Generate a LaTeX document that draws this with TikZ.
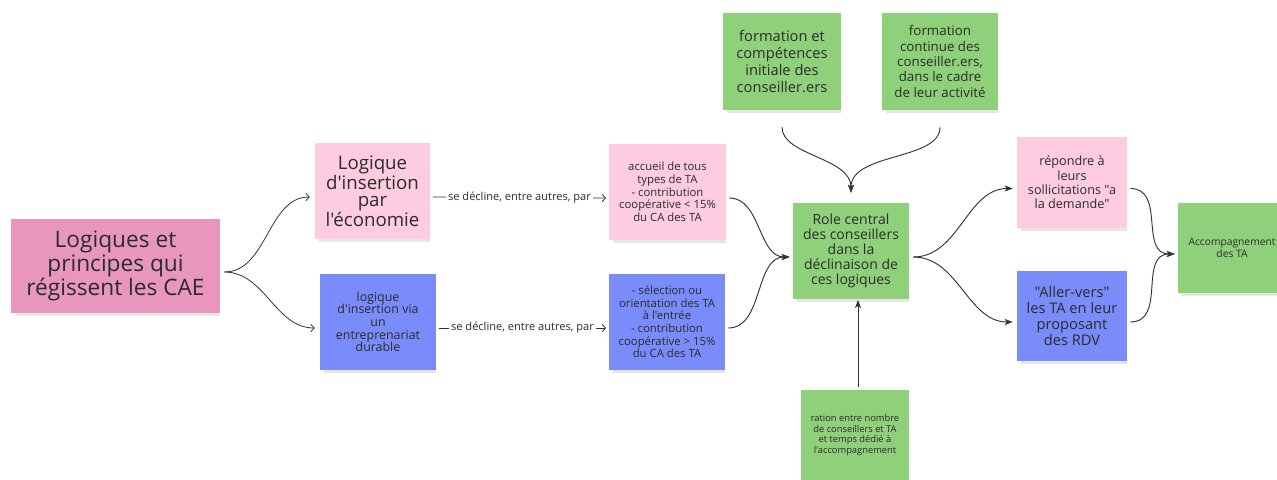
\documentclass[tikz,border=0pt]{standalone}
\usepackage{fontspec}
\setmainfont{Open Sans}[Ligatures=TeXOff]
\usetikzlibrary{arrows.meta, shadows, positioning}

\definecolor{notepink}{HTML}{FDCCE0}
\definecolor{caepink}{HTML}{E896BE}
\definecolor{noteblue}{HTML}{7A8CFA}
\definecolor{notegreen}{HTML}{8FD17A}
\definecolor{inktext}{HTML}{2B2B2B}

\begin{document}
\begin{tikzpicture}[x=0.75pt, y=-0.75pt,
  note/.style={rectangle, align=center, inner sep=1pt, text=inktext,
    drop shadow={shadow xshift=1.5pt, shadow yshift=-3.5pt, shadow scale=0.97, opacity=0.2}},
  link/.style={draw=black!80, line width=0.7pt, -{Stealth[length=6pt, width=4.5pt, inset=1.5pt]}},
  barb/.style={draw=black!80, line width=0.6pt, -{Straight Barb[length=2.5pt, width=5.5pt]}},
  declin/.style={fill=white, inner sep=1.5pt, text=inktext, font=\fontsize{8.3}{9}\selectfont}
]
\useasboundingbox (0,0) rectangle (1277,479);

% notes
\node[note, fill=caepink, minimum width=156.75pt, minimum height=70.5pt,
  font=\fontsize{17}{16.5}\selectfont] (cae) at (115.5,266) {Logiques et\\principes qui\\régissent les CAE};
\node[note, fill=notepink, minimum width=86.25pt, minimum height=72pt,
  font=\fontsize{14}{12.75}\selectfont] (ecol) at (372.5,191) {Logique\\d'insertion\\par\\l'économie};
\node[note, fill=noteblue, minimum width=87pt, minimum height=72pt,
  font=\fontsize{9.3}{9.5}\selectfont] (durable) at (378,322) {logique\\d'insertion via\\un\\entreprenariat\\durable};
\node[note, fill=notepink, minimum width=87.75pt, minimum height=72pt,
  font=\fontsize{8.5}{9.5}\selectfont] (accueil) at (667.5,192) {accueil de tous\\types de TA\\- contribution\\coopérative < 15\%\\du CA des TA};
\node[note, fill=noteblue, minimum width=87pt, minimum height=72pt,
  font=\fontsize{8.5}{9.5}\selectfont] (selection) at (667,322) {- sélection ou\\orientation des TA\\à l'entrée\\- contribution\\coopérative > 15\%\\du CA des TA};
\node[note, fill=notegreen, minimum width=88.5pt, minimum height=72.75pt,
  font=\fontsize{11}{12.75}\selectfont] (forminit) at (782,61.5) {formation et\\compétences\\initiale des\\conseiller.ers};
\node[note, fill=notegreen, minimum width=87pt, minimum height=72.75pt,
  font=\fontsize{10}{11.5}\selectfont] (formcont) at (940,61.5) {formation\\continue des\\conseiller.ers,\\dans le cadre\\de leur activité};
\node[note, fill=notegreen, minimum width=87pt, minimum height=72pt,
  font=\fontsize{10.5}{11.25}\selectfont] (role) at (851,251) {Role central\\des conseillers\\dans la\\déclinaison de\\ces logiques};
\node[note, fill=notegreen, minimum width=81pt, minimum height=67.5pt,
  font=\fontsize{7}{8}\selectfont] (ratio) at (855,435) {ration entre nombre\\de conseillers et TA\\et temps dédié à\\l'accompagnement};
\node[note, fill=notepink, minimum width=82.5pt, minimum height=68.25pt,
  font=\fontsize{9.5}{10.75}\selectfont] (demande) at (1072,182.5) {répondre à\\leurs\\sollicitations "a\\la demande"};
\node[note, fill=noteblue, minimum width=82.5pt, minimum height=67.5pt,
  font=\fontsize{11}{12}\selectfont] (allervers) at (1072,316) {"Aller-vers"\\les TA en leur\\proposant\\des RDV};
\node[note, fill=notegreen, minimum width=81pt, minimum height=67.5pt,
  font=\fontsize{7.7}{9}\selectfont] (accomp) at (1232,248) {Accompagnement\\des TA};

% connectors
\draw[barb, shorten <=3pt, shorten >=3.75pt] ([yshift=-4.5pt]cae.east) to[out=0, in=180] ([yshift=-4.5pt]ecol.west);
\draw[barb, shorten <=3pt, shorten >=3.75pt] ([yshift=-4.5pt]cae.east) to[out=0, in=180] ([yshift=-4.5pt]durable.west);
\draw[barb, shorten <=2pt, shorten >=2pt] ([yshift=-4.5pt]ecol.east) -- node[declin] {se décline, entre autres, par} ([yshift=-4.5pt]accueil.west);
\draw[barb, shorten <=2pt, shorten >=2pt] ([yshift=-4.5pt]durable.east) -- node[declin] {se décline, entre autres, par} ([yshift=-4.5pt]selection.west);
\draw[link, shorten <=2.25pt, shorten >=2.25pt] ([yshift=-4.5pt]accueil.east) to[out=0, in=180] ([yshift=-4.5pt]role.west);
\draw[link, shorten <=2.25pt, shorten >=2.25pt] ([yshift=-4.5pt]selection.east) to[out=0, in=180] ([yshift=-4.5pt]role.west);
\draw[link, shorten <=12.75pt, shorten >=7.5pt] (forminit.south) to[out=-90, in=90] (role.north);
\draw[link, shorten <=12.75pt, shorten >=7.5pt] (formcont.south) to[out=-90, in=90] (role.north);
\draw[link, shorten <=2pt, shorten >=0.5pt] ([xshift=2.25pt]ratio.north) -- ([xshift=2.25pt]ratio.north |- role.south);
\draw[link, shorten <=3pt, shorten >=3pt] ([yshift=-4.5pt]role.east) to[out=0, in=180] ([yshift=-4.5pt]demande.west);
\draw[link, shorten <=3pt, shorten >=3pt] ([yshift=-4.5pt]role.east) to[out=0, in=180] ([yshift=-4.5pt]allervers.west);
\draw[link, shorten <=2.25pt, shorten >=2.25pt] ([yshift=-4.5pt]demande.east) to[out=0, in=180, looseness=1.2] ([yshift=-4.5pt]accomp.west);
\draw[link, shorten <=2.25pt, shorten >=2.25pt] ([yshift=-4.5pt]allervers.east) to[out=0, in=180, looseness=1.2] ([yshift=-4.5pt]accomp.west);
\end{tikzpicture}
\end{document}
